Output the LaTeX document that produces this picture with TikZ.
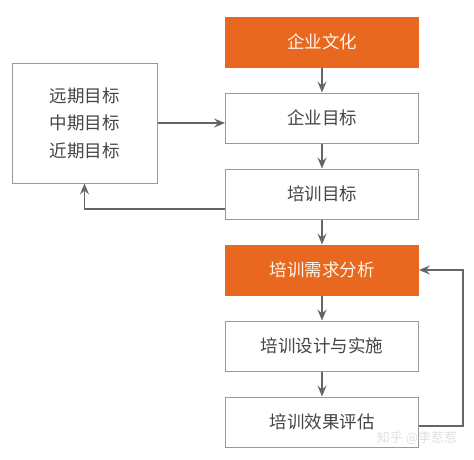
\documentclass[tikz,border=0pt]{standalone}
\usepackage{fontspec}
\setmainfont{Noto Sans CJK SC}
\usepackage{tikz}
\usetikzlibrary{arrows.meta,positioning}
\definecolor{accent}{HTML}{E8681F}
\definecolor{edge}{HTML}{999999}
\definecolor{ink}{HTML}{454545}

\begin{document}
\begin{tikzpicture}[x=1pt,y=-1pt,
    stepbox/.style={draw=edge,line width=1pt,minimum width=193pt,
                  minimum height=50pt,align=center,fill=white,text=ink,
                  font=\fontsize{17.5}{21}\selectfont},
    hot/.style={stepbox,draw=accent,fill=accent,text=white!92!orange},
    arr/.style={-{Stealth[length=11pt,width=9pt,inset=4pt]},line width=1.3pt,black!60},
    node distance=25pt
  ]
    \useasboundingbox (0,0) rectangle (474,459);
    \node[hot] (wh) at (322,42) {企业文化};
    \node[stepbox,below=of wh] (qm) {企业目标};
    \node[stepbox,below=of qm] (pm) {培训目标};
    \node[hot,below=of pm] (xq) {培训需求分析};
    \node[stepbox,below=of xq] (ss) {培训设计与实施};
    \node[stepbox,below=of ss] (pg) {培训效果评估};
    \node[stepbox,minimum width=145pt,minimum height=120pt,
          font=\fontsize{17.5}{27.5}\selectfont] (mb) at (84.5,123)
          {远期目标\\中期目标\\近期目标};
    \node[text=black!12,font=\fontsize{13}{15}\selectfont] (wm) at (417,438) {知乎 @李惹惹};
    % main chain
    \draw[arr] (wh) -- (qm);
    \draw[arr] (qm) -- (pm);
    \draw[arr] (pm) -- (xq);
    \draw[arr] (xq) -- (ss);
    \draw[arr] (ss) -- (pg);
    % loops
    \draw[arr] (mb.east) -- (mb.east -| qm.west);
    \draw[arr] ([yshift=-15pt]pm.west) -| (mb.south);
    \draw[arr] ([yshift=-4pt]pg.east) -- ++(44pt,0) |- (xq.east);
  \end{tikzpicture}
\end{document}
